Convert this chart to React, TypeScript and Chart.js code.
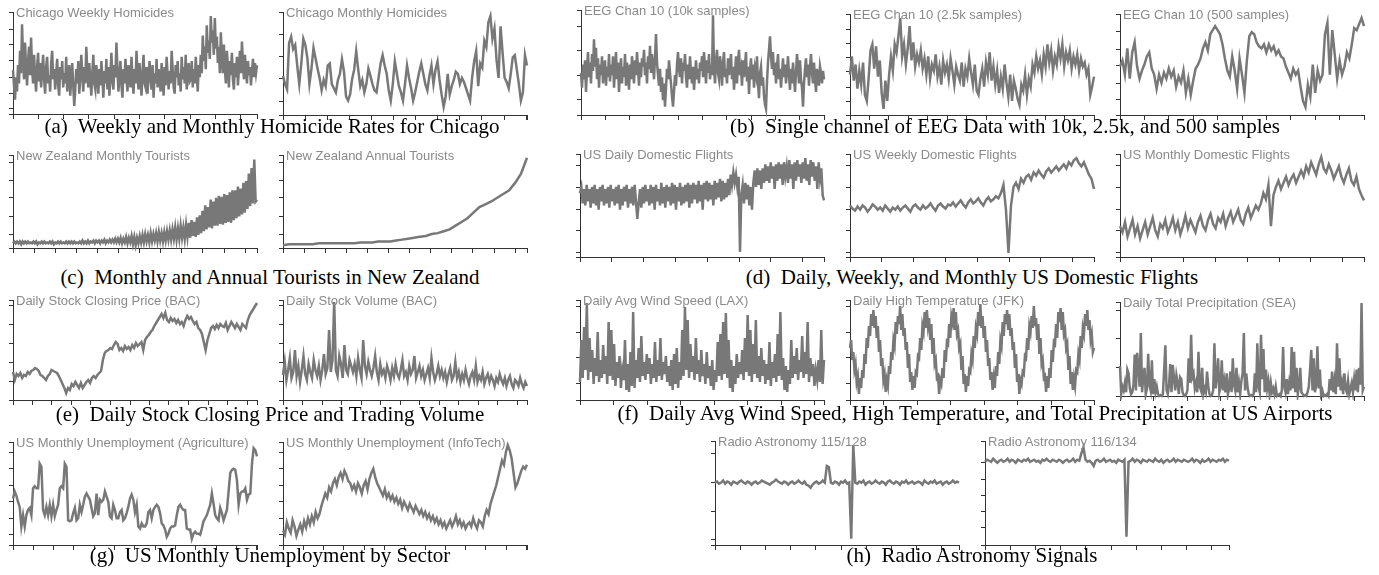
import React, { useEffect, useRef } from "react";
import { Chart, registerables } from "chart.js";
Chart.register(...registerables);

// ---------- data (values on a 0..100 scale of each panel) ----------
const chicagoWeekly = [43,28,14,36,22,48,30,62,40,88,55,34,70,46,28,52,66,38,75,44,30,58,36,22,46,60,32,
 50,26,42,58,34,20,46,56,30,38,22,50,62,34,44,24,40,54,28,18,46,34,52,26,40,30,56,22,36,48,
 18,34,50,28,8,24,44,30,52,20,36,58,38,22,46,30,66,42,26,50,34,18,40,58,30,24,48,36,20,44,
 28,52,36,16,42,30,54,24,46,18,38,60,32,24,48,36,70,44,22,38,52,28,16,44,30,54,36,22,48,40,
 26,56,34,20,44,30,62,38,24,50,32,18,42,58,30,26,46,20,38,52,34,24,48,16,40,30,54,26,44,36,
 22,50,34,18,46,28,56,38,24,42,30,62,44,26,20,48,36,52,28,40,22,56,34,46,30,58,24,40,50,32,
 34,52,26,44,30,56,38,22,48,36,58,40,77,52,66,44,87,60,72,54,96,70,82,58,94,64,76,50,66,40,
 80,54,40,68,44,30,62,48,26,52,38,60,34,24,50,36,56,28,44,62,40,71,50,34,58,42,30,52,38,46,28,42,54,36,50,40,48];
const chicagoMonthly = [38,30,25,70,76,64,68,48,30,50,74,68,55,30,45,65,55,45,36,24,
 34,28,48,50,30,26,22,34,40,54,42,18,14,20,35,44,62,44,28,34,
 22,30,45,38,30,24,22,36,50,58,48,40,24,14,30,52,40,28,22,14,
 30,48,36,26,14,22,32,42,50,40,30,24,38,48,30,44,52,34,20,8,
 18,40,20,28,34,42,40,30,36,32,26,20,14,36,52,62,28,50,46,72,
 66,90,96,74,84,54,36,86,60,36,32,26,40,56,58,44,30,14,22,58,48];
const eeg10k = [40,26,48,34,52,22,44,60,36,50,30,58,42,72,46,64,34,54,26,48,38,56,30,44,52,28,46,36,58,32,
 48,38,56,26,44,60,34,50,22,42,54,30,46,36,58,28,50,40,24,48,34,56,42,30,52,38,60,44,28,50,
 36,54,46,62,38,50,30,56,44,66,40,58,48,34,54,77,50,38,28,44,22,36,14,30,8,26,44,34,52,40,
 30,18,8,22,38,28,48,60,44,36,54,30,50,42,58,36,26,48,34,56,40,30,46,24,38,52,34,44,30,50,
 42,56,36,60,46,30,52,40,58,34,48,38,95,44,30,52,62,40,34,56,46,28,50,60,36,44,30,54,38,48,
 58,34,46,24,40,56,30,50,62,38,44,28,52,36,48,60,32,46,20,42,54,34,48,26,44,38,56,30,16,40,
 46,28,36,18,10,6,32,50,62,75,56,44,60,38,50,30,46,58,34,44,26,40,54,36,48,30,42,56,38,24,
 44,30,50,36,22,40,58,46,30,52,34,26,8,30,44,54,36,48,28,46,58,40,30,50,34,22,44,36,28,46,40,30,42,34];
const eeg2500 = [40,58,34,50,26,44,30,52,20,14,36,64,70,
 46,68,38,54,22,6,34,14,40,58,44,70,62,
 78,96,58,70,50,66,88,54,72,48,60,52,64,
 46,56,40,58,36,50,44,60,38,48,30,54,42,
 50,36,56,44,30,48,40,34,52,28,46,38,56,
 42,30,50,24,20,36,46,28,52,40,62,34,48,
 30,44,22,38,26,50,32,18,40,14,34,26,16,
 10,30,24,40,20,36,28,50,42,58,46,54,40,
 60,48,70,52,64,44,58,50,68,56,70,48,62,
 54,64,46,58,50,60,44,56,48,52,40,46,20,28,38];
const eeg500 = [48,54,40,66,36,62,72,48,36,44,50,58,62,46,40,26,40,32,42,36,
 46,38,44,28,38,32,44,22,36,20,34,46,50,56,66,72,64,80,84,88,
 84,80,70,56,44,38,58,44,26,56,40,22,54,78,82,80,72,68,66,70,
 62,70,64,68,60,64,58,56,48,42,36,46,40,44,28,14,8,30,18,50,
 22,44,34,40,80,91,40,84,60,36,54,40,48,62,56,70,86,84,90,96,88];
const nzMonthly = [5,7,5,7,5,7,4,7,5,7, 5,7,5,6,5,7,5,7,4,6, 5,7,5,7,5,6,5,7,5,7,
 4,6,5,7,5,7,5,6,5,7, 5,7,5,7,5,7,5,6,5,7, 5,8,5,7,5,8,5,7,6,8,
 5,8,6,8,5,8,6,9,5,8, 6,9,6,9,6,10,
 6,10,6,11,5,10,6,12,5,11, 6,13,4,12,3,11,5,13,6,14,
 6,15,7,14,6,16,7,15,8,16, 7,17,8,16,7,17,8,18,9,19,
 9,20,10,22,9,21,10,24,11,22,10,25,
 12,27,11,30,13,28,12,33,14,35,
 16,40,18,46,20,44,22,52,21,50,24,54,
 24,56,26,55,25,58,27,57,28,60,27,62,
 30,62,32,66,34,64,36,70,38,72,
 42,80,45,86,48,95,50,52];
const nzAnnual = [3,4,4,4,4,4,5,5,5,5,5,5,5,6,6,6,7,7,7,8,9,10,11,12,13,15,16,18,20,24,28,32,38,44,47,50,54,58,62,70,80,97];
const usDailyFlights = [62,68,52,66,50,70,54,66,48,68,52,70,50,66,46,68,54,70,50,66, 52,68,48,70,54,66,50,68,52,70, 46,66,50,68,54,70,48,66,52,68, 50,70,54,37,52,
 66,48,68,52,70,54,66,50,70,52, 68,46,70,54,66,50,72,52,68,48, 70,54,68,50,72,52,70,46,68,54, 72,50,68,52,70,54,72,48,70,52,
 72,56,70,52,74,54,70,46,72,56, 74,54,72,56,70,50,74,56,72,58, 76,54,74,56,72,58,76,60,
 80,70,82,72,80,68,78, 5,
 60,70,52,72,56,70,50,68,46,72,
 84,68,86,70,84,66,86,72,
 90,74,88,72,92,76,88,66,90,74, 92,76,90,70,92,78,88,72,94,76, 90,66,92,74,94,78,90,72,92,76, 96,74,90,70,94,78,92,74,88,66, 92,76,86,60,55];
const usWeeklyFlights = [50,47,45,49,46,50,48,44,47,51,49,46,48,45,50,47,44,48,46,49,
 45,48,50,47,44,49,51,48,46,50,47,49,52,48,45,50,52,49,47,51,
 50,53,49,52,55,51,48,53,56,52,54,57,53,50,55,58,54,56,59,57,
 62,70,46,4, 50,68,72,66,
 76,72,78,80,75,82,79,84,80,77,83,86,82,85,88,84,
 87,90,86,92,89,94,96,91,88,92,86,80,76,66];
const usMonthlyFlights = [30,24,34,20,28,36,22,30,18,26,34,22,30,38,26,20,32,28,36,24,
 30,38,26,34,22,30,40,28,36,30,24,34,40,30,26,36,42,32,28,38,
 34,42,30,38,44,34,40,46,36,32,42,48,38,44,50,46,52,
 62,56,70,30,60,
 68,74,66,72,78,70,76,80,72,78,
 84,78,88,82,92,86,80,90,97,86,82,90,
 84,76,82,88,78,72,80,86,74,70,78,66,60,55];
const bacPrice = [28,20,26,24,27,22,25,24,28,26,29, 30,32,31,29,25,24,22,20,24,
 26,30,29,28,27,24,20,16,12, 7,12,10,16,14,18,15,12,17,
 12,15,18,20,17,22,24,22,25,27,29, 40,47,49,50,52,51,55,58,56,
 50,52,49,54,51,53,50,55,52,57,54,56,58, 50,60,63,65,68,70,74,77,80,83,86,82,87,
 80,78,82,79,81,77,80,76,78,74,80, 84,81,83,79,76,78,72,70,66,58,50,
 60,66,72,74,71,75,72,76,74,73,77, 70,74,78,75,72,76,73,70,76,74,72, 80,85,88,91,94,97];
const bacVolume = [25,38,20,30,42,22,28,50,24,34,18,30,44,26,20,36,28,22,40,30, 24,34,20,30,46,26,32,70,
 28,40,98,30,24,44,36,22,55,30,26,40,34,28,36,24,42,30,22,60, 34,26,38,30,24,32,44,28,20,36,
 26,30,22,34,28,20,32,24,36,26,22,30,40,24,28,20,34,26,30,44, 22,28,34,24,30,20,26,32,22,42, 28,20,26,34,24,30,
 22,28,18,26,32,20,24,38,22,28,18,26,20,30,22,16,24,28,20,34, 18,24,20,28,16,22,26,18,24,20,
 14,22,18,26,20,16,22,14,20,24, 16,12,20,18,14,22,16,12,18,14];
const windLAX = [18,60,22,73,30,97,20,62,28,50,16,42,24,68,18,40,22,55,26,44,
 16,78,24,70,20,56,14,38,22,44,12,30,20,60,10,36,8,48,14,88,
 12,40,22,52,18,64,24,38,20,46,26,42,16,36,22,58,18,40,24,62,
 20,38,26,44,18,34,14,40,10,46,16,52,12,38,20,70,24,93,30,80,
 22,56,28,44,20,62,26,40,18,50,24,36,16,48,22,34,14,40,10,30,
 18,58,24,66,20,78,26,87,22,60,12,40,8,34,16,46,22,38,26,50,
 20,62,28,85,24,70,18,56,26,80,22,44,18,52,24,40,16,36,20,58,
 14,38,22,46,18,66,24,88,20,42,10,34,8,30,16,60,22,44,26,52,
 20,40,28,64,22,48,26,78,18,42,24,36,14,30,20,40,18,70,16,40];
const tempJFK = [52,60,40,48,30,36,18,24,
 6,22,12,30,22,46,36,62,52,74,64,86,74,90,72,84,62,74,48,60,34,42,20,26,
 8,20,14,34,26,48,40,60,54,78,66,84,76,94,70,86,64,72,50,58,32,46,18,28,
 10,24,12,28,26,44,42,62,50,74,68,88,72,90,74,82,60,76,46,62,36,40,22,24,
 6,20,16,32,22,50,38,58,56,76,62,84,78,92,70,88,66,70,52,56,30,44,16,26,
 8,24,14,30,28,46,40,64,52,72,66,88,74,96,72,84,62,74,48,60,34,42,20,28,
 10,22,12,34,24,48,36,60,54,78,64,86,76,90,70,86,64,72,50,58,32,46,18,26,
 6,20,16,28,26,44,42,62,50,74,68,84,72,94,74,82,60,76,46,62,36,40,22,24,
 8,24,12,32,22,50,38,58,56,76,62,88,78,92,70,88,66,70,52,56,30,44,16,28,
 10,22,14,30,28,46,40,64,52,72,66,86,74,90,70,80,60,66,48,52];
const precipSEA = [32,2,10,6,14,4,28,24,8,2, 4,12,44,6,46,30,10,67,4,20, 30,2,8,45,12,6,38,2,18,4,
 10,2,0,1,0,2,28,54,6,2, 12,34,4,33,20,6,22,14,2,20, 18,4,1,0,2,6,40,14,65,20,
 24,8,14,4,47,10,6,30,2,8, 4,26,10,2,0,1,6,56,8,20, 40,4,10,38,6,16,4,24,2,8,
 26,4,40,12,6,30,4,14,2,16, 24,67,6,24,10,2,0,1,0,2, 24,4,56,10,4,65,18,50,4,28,
 8,16,2,14,4,8,2,10,0,1, 2,0,6,52,10,4,18,2,14,6, 52,8,47,4,30,2,10,30,4,2,
 0,1,0,4,10,28,49,6,40,4, 12,53,8,28,2,6,0,1,0,2, 0,18,6,26,4,16,2,56,10,40,
 6,14,2,24,8,4,16,2,8,14, 4,18,6,28,4,30,12,99,6,10];
const unempAgriculture = [45,52,48,42,37,18,29,18,29,34,36,29,55,57,55,55,79,76,34,29,
 37,29,39,28,39,28,34,39,55,57,55,79,76,24,23,24,31,36,24,26,
 39,32,39,47,50,47,44,36,28,31,50,29,44,42,44,52,47,42,28,26,
 39,34,26,26,32,34,24,26,31,37,45,49,44,32,39,18,16,21,18,18,
 21,32,34,26,34,37,39,37,31,21,19,15,8,11,16,18,18,19,29,37,
 39,36,34,34,16,15,15,6,11,13,11,11,10,16,23,26,29,34,39,50,
 40,29,26,24,36,31,24,29,34,52,70,73,74,73,63,39,50,52,52,55,
 44,49,50,79,94,92,86];
const unempInfoTech = [14,10,22,16,12,24,18,9,15,20,13,23,17,26,20,28,22,32,26,30,
 38,44,50,46,56,52,60,64,58,66,70,64,72,
 68,62,60,54,58,52,60,56,50,58,62,54,64,70,74,66,60,56,
 52,48,54,46,50,44,48,42,46,40,44,36,42,38,34,40,36,32,38,34,
 30,34,28,32,26,30,24,28,22,26,20,24,18,22,16,20,24,18,22,28,20,24,18,22,16,20,
 22,18,26,20,16,24,22,18,28,34,30,40,46,52,58,66,
 74,82,78,90,97,92,84,70,56,60,66,72,76,74,78];
const radio115 = [60,61,59,60,62,59,61,60,58,61,60,59,61,62,60,59,61,60,58,60,
 61,59,60,62,61,60,59,58,60,61,63,61,60,59,61,60,58,60,61,59,
 60,62,60,59,61,58,57,55,58,60,61,59,60,62,60,76,75,60,59,61,
 60,58,61,60,62,59,60,6,96,60,59,61,60,62,58,60,61,59,60,62,
 60,59,61,60,58,61,62,60,59,61,60,58,61,60,62,59,60,61,59,60,
 61,60,58,62,60,59,61,60,62,59,60,61,58,60,61,59,60,62,60,61,60];
const radio116 = [80,82,81,80,83,81,79,81,82,80,81,83,80,82,81,79,82,81,80,82,
 81,83,80,81,82,80,81,79,82,81,83,81,80,82,81,80,82,81,79,81,
 82,80,81,83,80,82,81,88,94,82,80,81,79,76,81,82,80,81,83,80,
 81,82,80,81,79,82,81,80,82,8,80,81,83,80,82,81,79,82,81,80,
 82,81,80,83,81,80,82,79,81,82,80,81,83,80,82,81,80,82,81,80,
 81,83,80,82,81,79,82,80,81,83,80,82,81,80,82,81,83,80,82,81];

// tick positions on the 0..100 value scale
const yTicksA = [5, 20, 36, 52, 68, 83];
const yTicksB = [13.5, 35, 57, 78.5];
const yTicksC = [15, 38, 61, 84];
const yTicksD = [13, 27, 43, 57, 71, 85];
const yTicksE = [15, 31, 49, 65, 83];
const yTicksNZ = [15, 34, 54, 73, 92];
const yTicksUS = [4, 26, 46, 67, 89];
const yTicksBAC = [19, 38, 57, 76, 95];
const yTicksWx = [17, 43, 68, 93];
const yTicksSEA = [30, 61, 91];
const yTicksUn = [10, 26, 42, 58, 74, 90];
const yTicksR1 = [5, 32, 60, 88];
const yTicksR2 = [17, 32, 48, 63, 79];

const titles = [
  "Chicago Weekly Homicides", "Chicago Monthly Homicides",
  "EEG Chan 10 (10k samples)", "EEG Chan 10 (2.5k samples)", "EEG Chan 10 (500 samples)",
  "New Zealand Monthly Tourists", "New Zealand Annual Tourists",
  "US Daily Domestic Flights", "US Weekly Domestic Flights", "US Monthly Domestic Flights",
  "Daily Stock Closing Price (BAC)", "Daily Stock Volume (BAC)",
  "Daily Avg Wind Speed (LAX)", "Daily High Temperature (JFK)", "Daily Total Precipitation (SEA)",
  "US Monthly Unemployment (Agriculture)", "US Monthly Unemployment (InfoTech)",
  "Radio Astronomy 115/128", "Radio Astronomy 116/134",
];
const seriesList = [
  chicagoWeekly, chicagoMonthly, eeg10k, eeg2500, eeg500, nzMonthly, nzAnnual,
  usDailyFlights, usWeeklyFlights, usMonthlyFlights, bacPrice, bacVolume,
  windLAX, tempJFK, precipSEA, unempAgriculture, unempInfoTech, radio115, radio116,
];
const yTickList = [
  yTicksA, yTicksB, yTicksC, yTicksD, yTicksE, yTicksNZ, yTicksNZ,
  yTicksUS, yTicksUS, yTicksUS, yTicksBAC, yTicksBAC,
  yTicksWx, yTicksWx, yTicksSEA, yTicksUn, yTicksUn, yTicksR1, yTicksR2,
];

const captions = [
  "(a)  Weekly and Monthly Homicide Rates for Chicago",
  "(b)  Single channel of EEG Data with 10k, 2.5k, and 500 samples",
  "(c)  Monthly and Annual Tourists in New Zealand",
  "(d)  Daily, Weekly, and Monthly US Domestic Flights",
  "(e)  Daily Stock Closing Price and Trading Volume",
  "(f)  Daily Avg Wind Speed, High Temperature, and Total Precipitation at US Airports",
  "(g)  US Monthly Unemployment by Sector",
  "(h)  Radio Astronomy Signals",
];

// ---------- layout (plot boxes: left, right, top, bottom; x tick spacing px) ----------
const boxes: [number, number, number, number, number][] = [
  [13, 257, 12, 114, 25.3], [283, 527, 12, 115, 22.1],
  [581, 824, 10, 115, 24.3], [850, 1094, 14, 115, 19.5], [1120, 1364, 14, 115, 24.4],
  [13, 257, 155, 248, 21.1], [283, 527, 155, 248, 21.1],
  [580, 824, 154, 257, 31.8], [850, 1094, 154, 257, 31.8], [1120, 1364, 154, 257, 31.8],
  [13, 257, 300, 400, 19.5], [283, 527, 300, 400, 19.5],
  [580, 824, 300, 400, 33.5], [850, 1094, 300, 400, 33.5], [1120, 1364, 302, 396, 33.5],
  [13, 257, 442, 545, 20.3], [283, 527, 442, 545, 20.3],
  [715, 959, 441, 545, 25.2], [985, 1229, 441, 545, 25.2],
];
const captionPos: [number, number][] = [
  [272, 133], [1005, 133], [270, 284], [972, 284], [270, 421], [975, 420], [270, 562], [972, 562],
];

const LINE = "#787878";
const AXIS = "#333333";
const PADL = 2, PADR = 5, PADT = 5, PADB = 2, YW = 4, XH = 5;

function Mini({ idx }: { idx: number }) {
  const ref = useRef<HTMLCanvasElement>(null);
  const [L, R, T, B, tickPx] = boxes[idx];
  const W = R - L;
  const H = B - T;
  const cw = W + PADL + YW + PADR;
  const ch = H + PADT + XH + PADB;
  useEffect(() => {
    const values = seriesList[idx];
    const xMax = values.length - 1;
    const step = (xMax * tickPx) / W;
    const yt = yTickList[idx];
    const chart = new Chart(ref.current!, {
      type: "line",
      data: {
        datasets: [
          {
            data: values.map((v, i) => ({ x: i, y: v })),
            borderColor: LINE,
            borderWidth: 2.5,
            pointRadius: 0,
            tension: 0,
            fill: false,
            clip: 4,
          } as any,
        ],
      },
      options: {
        animation: false,
        responsive: false,
        maintainAspectRatio: false,
        events: [],
        layout: { padding: { left: PADL, right: PADR, top: PADT, bottom: PADB } },
        plugins: { legend: { display: false }, tooltip: { enabled: false }, title: { display: false } },
        scales: {
          x: {
            type: "linear",
            min: 0,
            max: xMax,
            grid: { display: true, drawOnChartArea: false, drawTicks: true, tickLength: XH, color: AXIS, lineWidth: 1 },
            border: { display: true, color: AXIS, width: 1 },
            ticks: { display: false },
            afterBuildTicks: (s: any) => {
              const t: { value: number }[] = [];
              for (let k = 0; k * step <= xMax + 1e-6; k++) t.push({ value: k * step });
              if (xMax - t[t.length - 1].value > 1e-6) t.push({ value: xMax });
              s.ticks = t;
            },
            afterFit: (s: any) => { s.height = XH; },
          },
          y: {
            type: "linear",
            min: 0,
            max: 100,
            grid: { display: true, drawOnChartArea: false, drawTicks: true, tickLength: YW, color: AXIS, lineWidth: 1 },
            border: { display: true, color: AXIS, width: 1 },
            ticks: { display: false },
            afterBuildTicks: (s: any) => {
              s.ticks = [0, ...yt, 100].map((v) => ({ value: v }));
            },
            afterFit: (s: any) => { s.width = YW; },
          },
        },
      } as any,
    });
    return () => chart.destroy();
  }, [idx]);
  return (
    <>
      <canvas
        ref={ref}
        width={cw}
        height={ch}
        style={{ position: "absolute", left: L - YW - PADL, top: T - PADT, width: cw, height: ch }}
      />
      <div
        style={{
          position: "absolute",
          left: L + 3,
          top: T - 6,
          font: '13px "Liberation Sans", Arial, sans-serif',
          lineHeight: "13px",
          color: "#8a8a8a",
          whiteSpace: "nowrap",
          pointerEvents: "none",
        }}
      >
        {titles[idx]}
      </div>
    </>
  );
}

export default function App() {
  return (
    <div style={{ position: "absolute", left: 0, top: 0, width: 1379, height: 575, background: "#fff", overflow: "hidden" }}>
      {boxes.map((_, i) => (
        <Mini key={i} idx={i} />
      ))}
      {captions.map((c, i) => (
        <div
          key={"c" + i}
          style={{
            position: "absolute",
            left: captionPos[i][0] - 500,
            width: 1000,
            top: captionPos[i][1] - 17.5,
            textAlign: "center",
            font: '21px "Liberation Serif", "Times New Roman", serif',
            lineHeight: "21px",
            color: "#000",
            whiteSpace: "pre",
          }}
        >
          {c}
        </div>
      ))}
    </div>
  );
}
